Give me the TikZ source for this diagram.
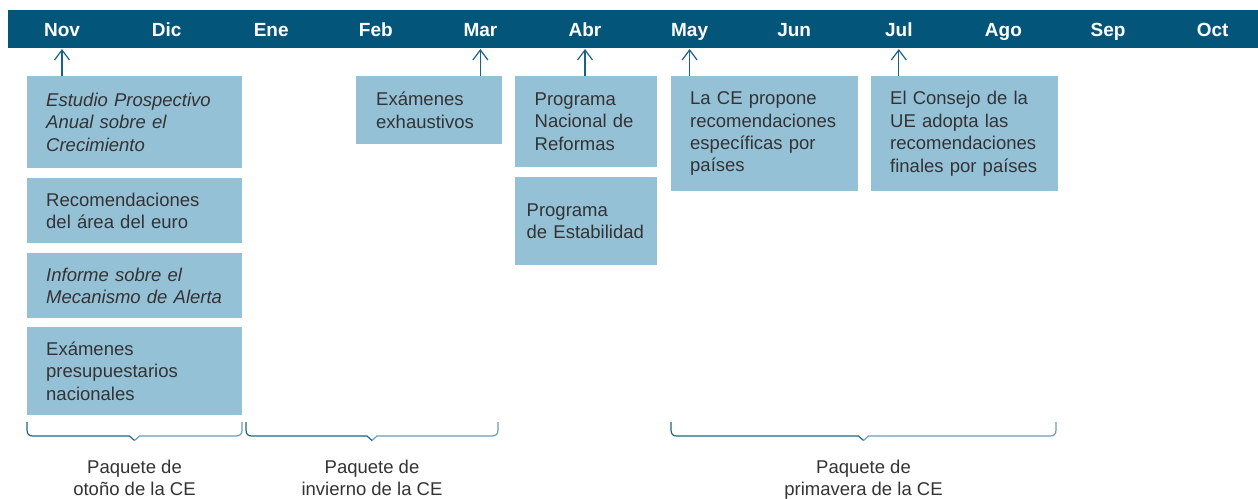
\documentclass[tikz,border=0pt]{standalone}
\usepackage{fontspec}
\setmainfont{Liberation Sans}
\usetikzlibrary{arrows.meta}
\definecolor{barblue}{HTML}{03567A}
\definecolor{boxblue}{HTML}{95C1D7}
\definecolor{txt}{HTML}{333333}
\definecolor{arrblue}{HTML}{17628A}
\definecolor{braceA}{HTML}{1F6389}
\definecolor{braceB}{HTML}{6C9DB9}
\begin{document}
\begin{tikzpicture}[x=1pt,y=-1pt,
  month/.style={text=white, font=\fontsize{19}{22}\selectfont\bfseries, inner sep=0pt, anchor=base},
  box/.style={fill=boxblue, anchor=north west, align=left, text=txt, inner ysep=0pt,
    font=\fontsize{18.5}{22.4}\selectfont},
  ibox/.style={box, font=\fontsize{18.5}{22.4}\selectfont\itshape},
  arr/.style={draw=arrblue, line width=1.2pt, -{Straight Barb[length=10pt,width=15pt]}},
  bA/.style={draw=braceA, line width=1.2pt},
  bB/.style={draw=braceB, line width=1.2pt},
  lab/.style={align=center, text=txt, inner sep=0pt, anchor=north,
    font=\fontsize{18.5}{21.7}\selectfont}]
\useasboundingbox (0,0) rectangle (1258,498);
% top bar
\fill[barblue] (8,10) rectangle (1258,48);
\coordinate (barbot) at (0,49);
\foreach \m [count=\i from 0] in {Nov,Dic,Ene,Feb,Mar,Abr,May,Jun,Jul,Ago,Sep,Oct}
  \node[month] (m\m) at ({62+104.6*\i},36) {\m};
% boxes
\node[ibox, minimum height=92pt, inner xsep=19pt, text width=177pt] (b1) at (27,76)
  {Estudio Prospectivo\\Anual sobre el\\Crecimiento};
\node[box, minimum height=65pt, inner xsep=19pt, text width=177pt] (b2) at (27,178)
  {Recomendaciones\\del área del euro};
\node[ibox, minimum height=65pt, inner xsep=19pt, text width=177pt] (b3) at (27,253)
  {Informe sobre el\\Mecanismo de Alerta};
\node[box, minimum height=88pt, inner xsep=19pt, text width=177pt] (b4) at (27,327)
  {Exámenes\\presupuestarios\\nacionales};
\node[box, minimum height=68pt, inner xsep=20pt, text width=106pt] (b5) at (356,76)
  {Exámenes\\exhaustivos};
\node[box, minimum height=91pt, inner xsep=19.5pt, text width=103pt] (b6) at (515,76)
  {Programa\\Nacional de\\Reformas};
\node[box, minimum height=88pt, inner xsep=11.5pt, text width=119pt] (b7) at (515,177)
  {Programa\\de Estabilidad};
\node[box, minimum height=115pt, inner xsep=19pt, text width=149pt] (b8) at (671,76)
  {La CE propone\\recomendaciones\\específicas por\\países};
\node[box, minimum height=115pt, inner xsep=19pt, text width=149pt] (b9) at (871,76)
  {El Consejo de la\\UE adopta las\\recomendaciones\\finales por países};
% arrows
\draw[arr] (b1.north -| mNov) -- (mNov |- barbot);
\draw[arr] (b5.north -| mMar) -- (mMar |- barbot);
\draw[arr] (b6.north -| mAbr) -- (mAbr |- barbot);
\draw[arr] (b8.north -| mMay) -- (mMay |- barbot);
\draw[arr] (b9.north -| mJul) -- (mJul |- barbot);
% braces
\coordinate (t1) at (134.5,440.5);
\coordinate (t2) at (372,440.5);
\coordinate (t3) at (863.5,440.5);
\draw[bA] (27,422) -- (27,430) .. controls (27,434) and (29,436) .. (33,436) -- (129.5,436) -- (t1);
\draw[bB] (t1) -- (139.5,436) -- (236,436) .. controls (240,436) and (242,434) .. (242,430) -- (242,422);
\draw[bA] (246,422) -- (246,430) .. controls (246,434) and (248,436) .. (252,436) -- (367,436) -- (t2);
\draw[bB] (t2) -- (377,436) -- (492,436) .. controls (496,436) and (498,434) .. (498,430) -- (498,422);
\draw[bA] (671,422) -- (671,430) .. controls (671,434) and (673,436) .. (677,436) -- (858.5,436) -- (t3);
\draw[bB] (t3) -- (868.5,436) -- (1050,436) .. controls (1054,436) and (1056,434) .. (1056,430) -- (1056,422);
% labels
\node[lab] (l1) at (t1 |- 0,460) {Paquete de\\otoño de la CE};
\node[lab] (l2) at (t2 |- 0,460) {Paquete de\\invierno de la CE};
\node[lab] (l3) at (t3 |- 0,460) {Paquete de\\primavera de la CE};
\end{tikzpicture}
\end{document}
